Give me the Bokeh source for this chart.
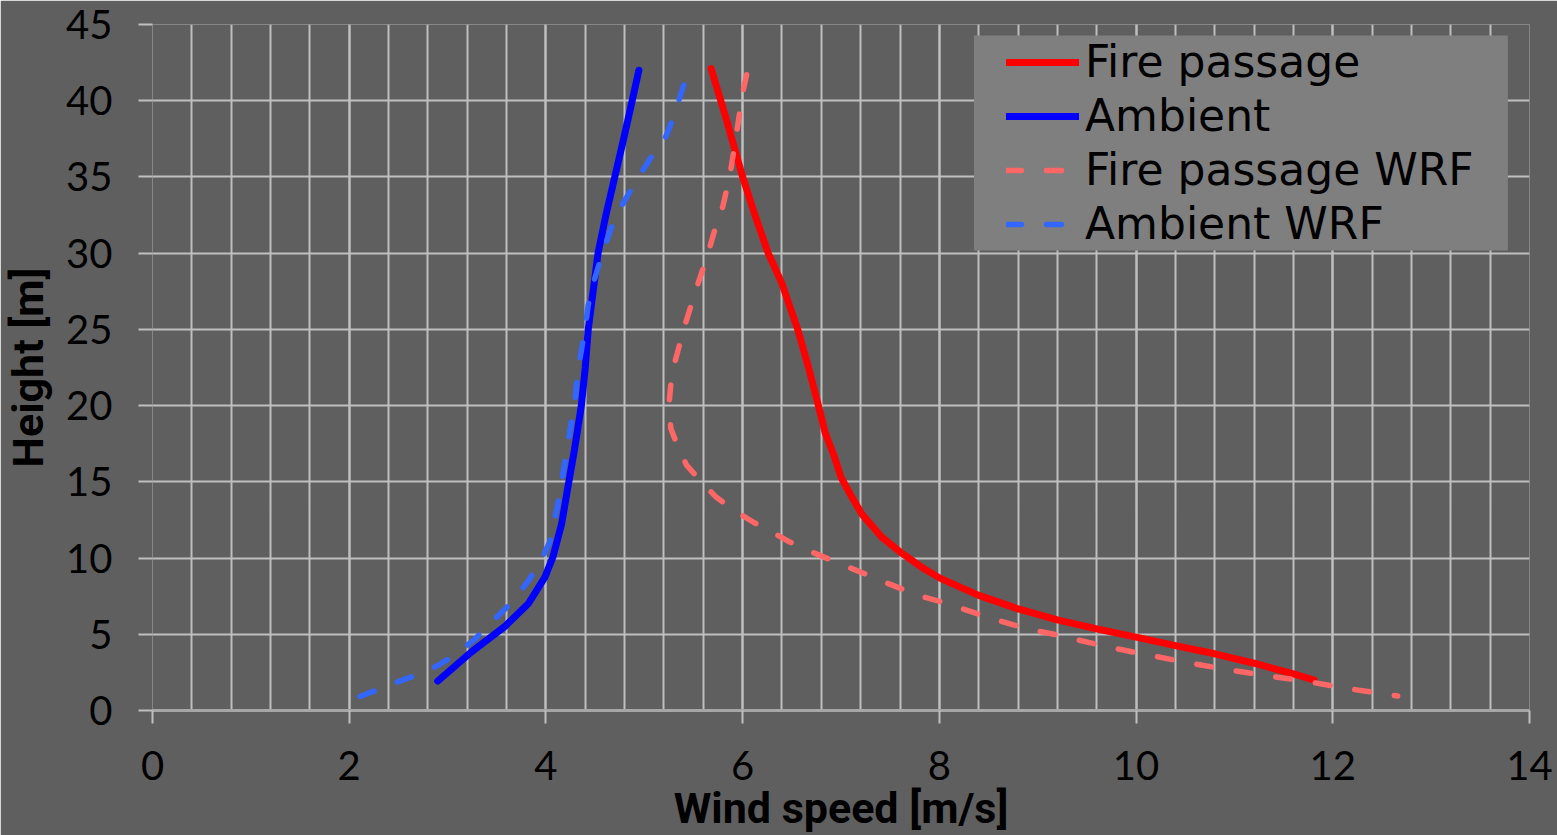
from bokeh.plotting import figure
from bokeh.models import Legend, LegendItem, SingleIntervalTicker, Range1d, BoxAnnotation
from bokeh.embed import file_html
from bokeh.resources import INLINE

# ---- data (wind speed [m/s], height [m]) ----
fire_speed = [5.68, 5.82, 6.00, 6.12, 6.26, 6.40, 6.48, 6.56, 6.67, 6.77, 6.84, 6.93, 7.00, 7.11,
              7.21, 7.41, 7.62, 7.82, 8.00, 8.40, 8.80, 9.20, 9.60, 10.0, 10.4, 10.8, 11.2, 11.6, 11.81]
fire_height = [42.1, 39.1, 35.0, 32.6, 30.0, 28.0, 26.5, 25.0, 22.5, 20.0, 18.2, 16.7, 15.3, 14.0,
               12.9, 11.4, 10.3, 9.4, 8.7, 7.55, 6.67, 5.95, 5.36, 4.81, 4.26, 3.72, 3.1, 2.4, 2.0]

amb_speed = [2.90, 3.24, 3.58, 3.82, 3.99, 4.07, 4.16, 4.23, 4.29, 4.36, 4.40, 4.43, 4.48, 4.53,
             4.61, 4.70, 4.79, 4.877, 4.945]
amb_height = [1.93, 3.83, 5.5, 7.0, 8.75, 10.05, 12.25, 14.9, 17.1, 20.0, 22.5, 25.0, 27.5, 30.0,
              32.5, 35.0, 37.5, 40.0, 42.0]

fire_wrf_speed = [6.04, 5.99, 5.96, 5.91, 5.87, 5.80, 5.72, 5.63, 5.52, 5.40, 5.28, 5.25, 5.27, 5.33,
                  5.43, 5.58, 5.73, 5.92, 6.11, 6.33, 6.48, 6.70, 7.04, 7.24, 7.45, 7.65, 7.85, 8.09,
                  8.51, 8.90, 9.22, 9.65, 10.06, 10.5, 10.88, 11.31, 11.72, 12.16, 12.66]
fire_wrf_height = [41.7, 40.2, 38.8, 36.7, 35.1, 33.1, 31.6, 29.6, 27.5, 25.0, 22.1, 20.0, 18.5, 17.5,
                   16.1, 15.0, 14.0, 13.1, 12.35, 11.6, 11.05, 10.4, 9.5, 8.97, 8.4, 7.9, 7.43, 7.0,
                   6.07, 5.35, 4.92, 4.26, 3.72, 3.17, 2.73, 2.3, 1.93, 1.43, 0.95]

amb_wrf_speed = [2.11, 2.29, 2.50, 2.70, 2.90, 3.09, 3.28, 3.50, 3.67, 3.82, 3.95, 4.04, 4.12, 4.19,
                 4.30, 4.32, 4.36, 4.40, 4.43, 4.49, 4.56, 4.66, 4.76, 4.94, 5.07, 5.21, 5.29, 5.36, 5.42]
amb_wrf_height = [0.92, 1.36, 1.9, 2.36, 2.95, 3.7, 4.7, 6.12, 7.2, 8.5, 9.8, 11.1, 13.5, 16.2,
                  20.6, 22.1, 23.6, 25.1, 26.6, 28.2, 29.7, 31.6, 33.0, 35.0, 36.3, 37.5, 38.8, 40.2, 41.4]

series_names = ["Fire passage", "Ambient", "Fire passage WRF", "Ambient WRF"]

BG = "#5f5f5f"
GRID = "#bfbfbf"
FONT = "Lato"

p = figure(frame_width=1377, frame_height=686,
           min_border_left=147, min_border_right=33, min_border_top=24, min_border_bottom=123,
           x_range=Range1d(0, 14), y_range=Range1d(0, 45),
           output_backend="svg", toolbar_location=None,
           background_fill_color=BG, border_fill_color=BG, outline_line_color=None)

p.xaxis.ticker = SingleIntervalTicker(interval=2, num_minor_ticks=5)
p.yaxis.ticker = SingleIntervalTicker(interval=5, num_minor_ticks=0)
p.xgrid.grid_line_color = GRID
p.xgrid.minor_grid_line_color = GRID
p.xgrid.grid_line_width = 2
p.xgrid.minor_grid_line_width = 2
p.ygrid.grid_line_color = GRID
p.ygrid.grid_line_width = 2

for ax in (p.xaxis, p.yaxis):
    ax.minor_tick_line_color = None
    ax.major_tick_in = 0
    ax.major_tick_line_color = GRID
    ax.major_tick_line_width = 2
    ax.major_label_text_font = FONT
    ax.major_label_text_font_size = "40px"
    ax.major_label_text_color = "black"
    ax.axis_label_text_font = "Roboto"
    ax.axis_label_text_font_style = "bold"
    ax.axis_label_text_font_size = "43px"
    ax.axis_label_text_color = "black"

p.xaxis.axis_line_color = "#a6a6a6"
p.xaxis.axis_line_width = 3
p.xaxis.major_tick_out = 13
p.xaxis.major_label_standoff = 27
p.xaxis.axis_label = "Wind speed [m/s]"
p.xaxis.axis_label_standoff = 0

p.yaxis.axis_line_color = None
p.yaxis.major_tick_out = 14
p.yaxis.major_label_standoff = 26
p.yaxis.axis_label = "Height [m]"
p.yaxis.axis_label_standoff = 10

r1 = p.line(fire_speed, fire_height, line_color="#ff0000", line_width=7, line_cap="round", line_join="round")
r2 = p.line(amb_speed, amb_height, line_color="#0000ff", line_width=7, line_cap="round", line_join="round")
r3 = p.line(fire_wrf_speed, fire_wrf_height, line_color="#ff6666", line_width=5.5,
            line_dash="15 25", line_cap="round", line_join="round")
r4 = p.line(amb_wrf_speed, amb_wrf_height, line_color="#3366ff", line_width=5.5,
            line_dash="15 25", line_cap="round", line_join="round")

# legend background panel
p.add_layout(BoxAnnotation(left=8.352, right=13.78, top=44.28, bottom=30.18,
                           fill_color="#7f7f7f", fill_alpha=1, line_color=None))

legend = Legend(items=[LegendItem(label=n, renderers=[r]) for n, r in zip(series_names, [r1, r2, r3, r4])],
                location=(854, 461), margin=0, padding=0, spacing=3,
                background_fill_alpha=0, border_line_color=None,
                label_text_font="DejaVu Sans", label_text_font_size="44px", label_text_color="black",
                glyph_width=73, glyph_height=40, label_standoff=6, label_height=44)
p.add_layout(legend, "center")

open("out.html", "w").write(file_html(p, INLINE))
